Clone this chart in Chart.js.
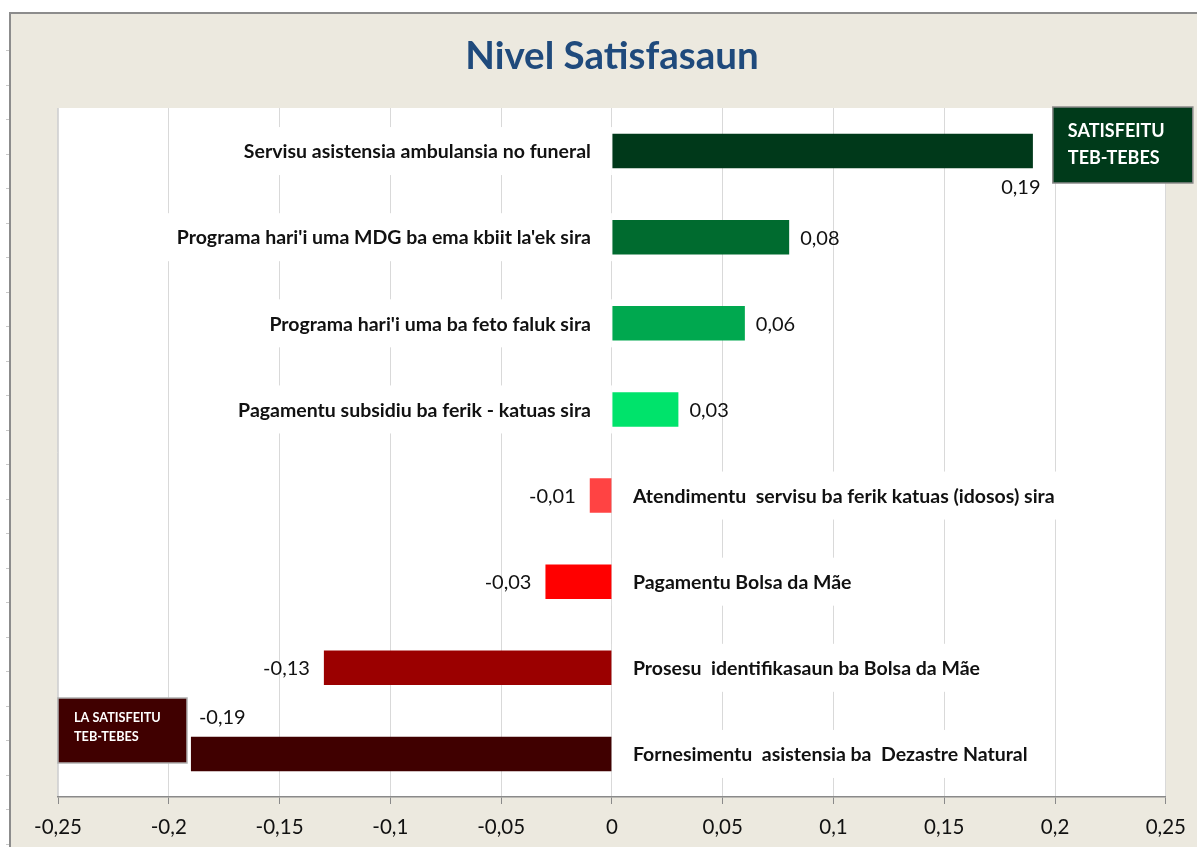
<!DOCTYPE html>
<html>
<head>
<meta charset="utf-8">
<script src="https://cdn.jsdelivr.net/npm/chart.js@4/dist/chart.umd.min.js"></script>
<style>
    html, body { margin: 0; padding: 0; background: #ffffff; overflow: hidden; }
    canvas { display: block; }
</style>
</head>
<body>
<canvas id="satisChart" width="1197" height="847"></canvas>
<script>
    // chart data
    const categories = [
        "Servisu asistensia ambulansia no funeral",
        "Programa hari'i uma MDG ba ema kbiit la'ek sira",
        "Programa hari'i uma ba feto faluk sira",
        "Pagamentu subsidiu ba ferik - katuas sira",
        "Atendimentu  servisu ba ferik katuas (idosos) sira",
        "Pagamentu Bolsa da Mãe",
        "Prosesu  identifikasaun ba Bolsa da Mãe",
        "Fornesimentu  asistensia ba  Dezastre Natural"
    ];
    const satisfactionValues = [0.19, 0.08, 0.06, 0.03, -0.01, -0.03, -0.13, -0.19];
    const valueLabels = ["0,19", "0,08", "0,06", "0,03", "-0,01", "-0,03", "-0,13", "-0,19"];
    const barColors = ["#00391a", "#006b2f", "#00a84f", "#00e36b", "#ff4343", "#ff0000", "#9b0000", "#400000"];
    const xTickValues = [-0.25, -0.2, -0.15, -0.1, -0.05, 0, 0.05, 0.1, 0.15, 0.2, 0.25];
    const xTickLabels = ["-0,25", "-0,2", "-0,15", "-0,1", "-0,05", "0", "0,05", "0,1", "0,15", "0,2", "0,25"];

    const FONT = "Lato, 'Open Sans', sans-serif";

    // background, frame and plot area
    const backgroundPlugin = {
        id: "background",
        beforeDraw(chart) {
            const ctx = chart.ctx;
            const a = chart.chartArea;
            ctx.save();
            ctx.fillStyle = "#ffffff";
            ctx.fillRect(0, 0, chart.width, chart.height);
            ctx.fillStyle = "#ece9df";
            ctx.fillRect(10, 13, chart.width - 10, chart.height - 13);
            ctx.strokeStyle = "#8c8c8c";
            ctx.lineWidth = 2;
            ctx.beginPath();
            ctx.moveTo(10, chart.height);
            ctx.lineTo(10, 13);
            ctx.lineTo(chart.width, 13);
            ctx.stroke();
            // little sheet ticks on the left edge
            ctx.strokeStyle = "#c8c8c8";
            ctx.lineWidth = 1;
            for (let y = 50; y < chart.height; y += 34.5) {
                ctx.beginPath();
                ctx.moveTo(6, Math.round(y) + 0.5);
                ctx.lineTo(9, Math.round(y) + 0.5);
                ctx.stroke();
            }
            ctx.fillStyle = "#ffffff";
            ctx.fillRect(a.left, a.top, a.right - a.left, a.bottom - a.top);
            ctx.strokeStyle = "#d4d4d4";
            ctx.beginPath();
            ctx.moveTo(a.left - 0.5, a.top);
            ctx.lineTo(a.left - 0.5, a.bottom);
            ctx.stroke();
            // title
            ctx.fillStyle = "#1f4a7c";
            ctx.font = "bold 38.5px " + FONT;
            ctx.textAlign = "center";
            ctx.textBaseline = "middle";
            ctx.fillText("Nivel Satisfasaun", (a.left + a.right) / 2, 57);
            ctx.restore();
        }
    };

    // category labels on white boxes next to the zero line
    const categoryLabelPlugin = {
        id: "categoryLabels",
        beforeDatasetsDraw(chart) {
            const ctx = chart.ctx;
            const xScale = chart.scales.x;
            const yScale = chart.scales.y;
            const x0 = xScale.getPixelForValue(0);
            ctx.save();
            ctx.font = "bold 19.5px " + FONT;
            ctx.textBaseline = "middle";
            categories.forEach((cat, i) => {
                const y = yScale.getPixelForValue(i);
                const w = ctx.measureText(cat).width;
                ctx.fillStyle = "#ffffff";
                if (satisfactionValues[i] >= 0) {
                    ctx.fillRect(x0 - 21 - w - 24, y - 24, w + 45, 48);
                    ctx.fillStyle = "#111111";
                    ctx.textAlign = "right";
                    ctx.fillText(cat, x0 - 21, y + 1);
                } else {
                    ctx.fillRect(x0, y - 24, w + 45, 48);
                    ctx.fillStyle = "#111111";
                    ctx.textAlign = "left";
                    ctx.fillText(cat, x0 + 21, y + 1);
                }
            });
            ctx.restore();
        }
    };

    // value labels and the two legend boxes
    const valueLabelPlugin = {
        id: "valueLabels",
        afterDatasetsDraw(chart) {
            const ctx = chart.ctx;
            const meta = chart.getDatasetMeta(0);
            const maxV = Math.max(...satisfactionValues);
            const minV = Math.min(...satisfactionValues);
            ctx.save();
            ctx.font = "20px " + FONT;
            ctx.fillStyle = "#111111";
            ctx.textBaseline = "middle";
            meta.data.forEach((bar, i) => {
                const v = satisfactionValues[i];
                const half = bar.height / 2;
                if (v === maxV) {
                    ctx.textAlign = "center";
                    ctx.fillText(valueLabels[i], bar.x - 12, bar.y + half + 19);
                } else if (v === minV) {
                    ctx.textAlign = "left";
                    ctx.fillText(valueLabels[i], bar.x + 8, bar.y - half - 19);
                } else if (v >= 0) {
                    ctx.textAlign = "left";
                    ctx.fillText(valueLabels[i], bar.x + 11, bar.y + 1);
                } else {
                    ctx.textAlign = "right";
                    ctx.fillText(valueLabels[i], bar.x - 14, bar.y + 1);
                }
            });

            const a = chart.chartArea;
            // top right box
            ctx.fillStyle = "#003a1a";
            ctx.fillRect(a.right - 113, a.top - 1, 140, 76);
            ctx.strokeStyle = "#8a8a8a";
            ctx.lineWidth = 1.5;
            ctx.strokeRect(a.right - 113, a.top - 1, 140, 76);
            ctx.fillStyle = "#ffffff";
            ctx.font = "bold 18px " + FONT;
            ctx.textAlign = "left";
            ctx.fillText("SATISFEITU", a.right - 98, a.top + 23);
            ctx.fillText("TEB-TEBES", a.right - 98, a.top + 50);

            // bottom left box
            ctx.fillStyle = "#400000";
            ctx.fillRect(a.left, 698, 129, 65);
            ctx.strokeStyle = "#b0b0b0";
            ctx.strokeRect(a.left, 698, 129, 65);
            ctx.fillStyle = "#ffffff";
            ctx.font = "bold 12.7px " + FONT;
            ctx.fillText("LA SATISFEITU", a.left + 16, 718);
            ctx.fillText("TEB-TEBES", a.left + 16, 737);
            ctx.restore();
        }
    };

    const ctx = document.getElementById("satisChart").getContext("2d");
    new Chart(ctx, {
        type: "bar",
        data: {
            labels: categories,
            datasets: [{
                data: satisfactionValues,
                backgroundColor: barColors,
                borderWidth: 0,
                categoryPercentage: 1,
                barPercentage: 0.4
            }]
        },
        options: {
            indexAxis: "y",
            responsive: false,
            animation: false,
            devicePixelRatio: 1,
            layout: { padding: { left: 58, right: 31, top: 108, bottom: 0 } },
            plugins: {
                legend: { display: false },
                title: { display: false },
                tooltip: { enabled: false }
            },
            scales: {
                x: {
                    min: -0.25,
                    max: 0.25,
                    afterBuildTicks: scale => {
                        scale.ticks = xTickValues.map(v => ({ value: v }));
                    },
                    afterFit: scale => { scale.height = 50; },
                    grid: {
                        color: "#d9d9d9",
                        lineWidth: 1,
                        drawTicks: true,
                        tickLength: 7,
                        tickColor: "#8a8a8a"
                    },
                    border: { color: "#8a8a8a", width: 1.5 },
                    ticks: {
                        autoSkip: false,
                        maxRotation: 0,
                        padding: 11,
                        color: "#111111",
                        font: { family: FONT, size: 20.5 },
                        callback: (v, i) => xTickLabels[i]
                    }
                },
                y: {
                    display: false
                }
            }
        },
        plugins: [backgroundPlugin, categoryLabelPlugin, valueLabelPlugin]
    });
</script>
</body>
</html>
